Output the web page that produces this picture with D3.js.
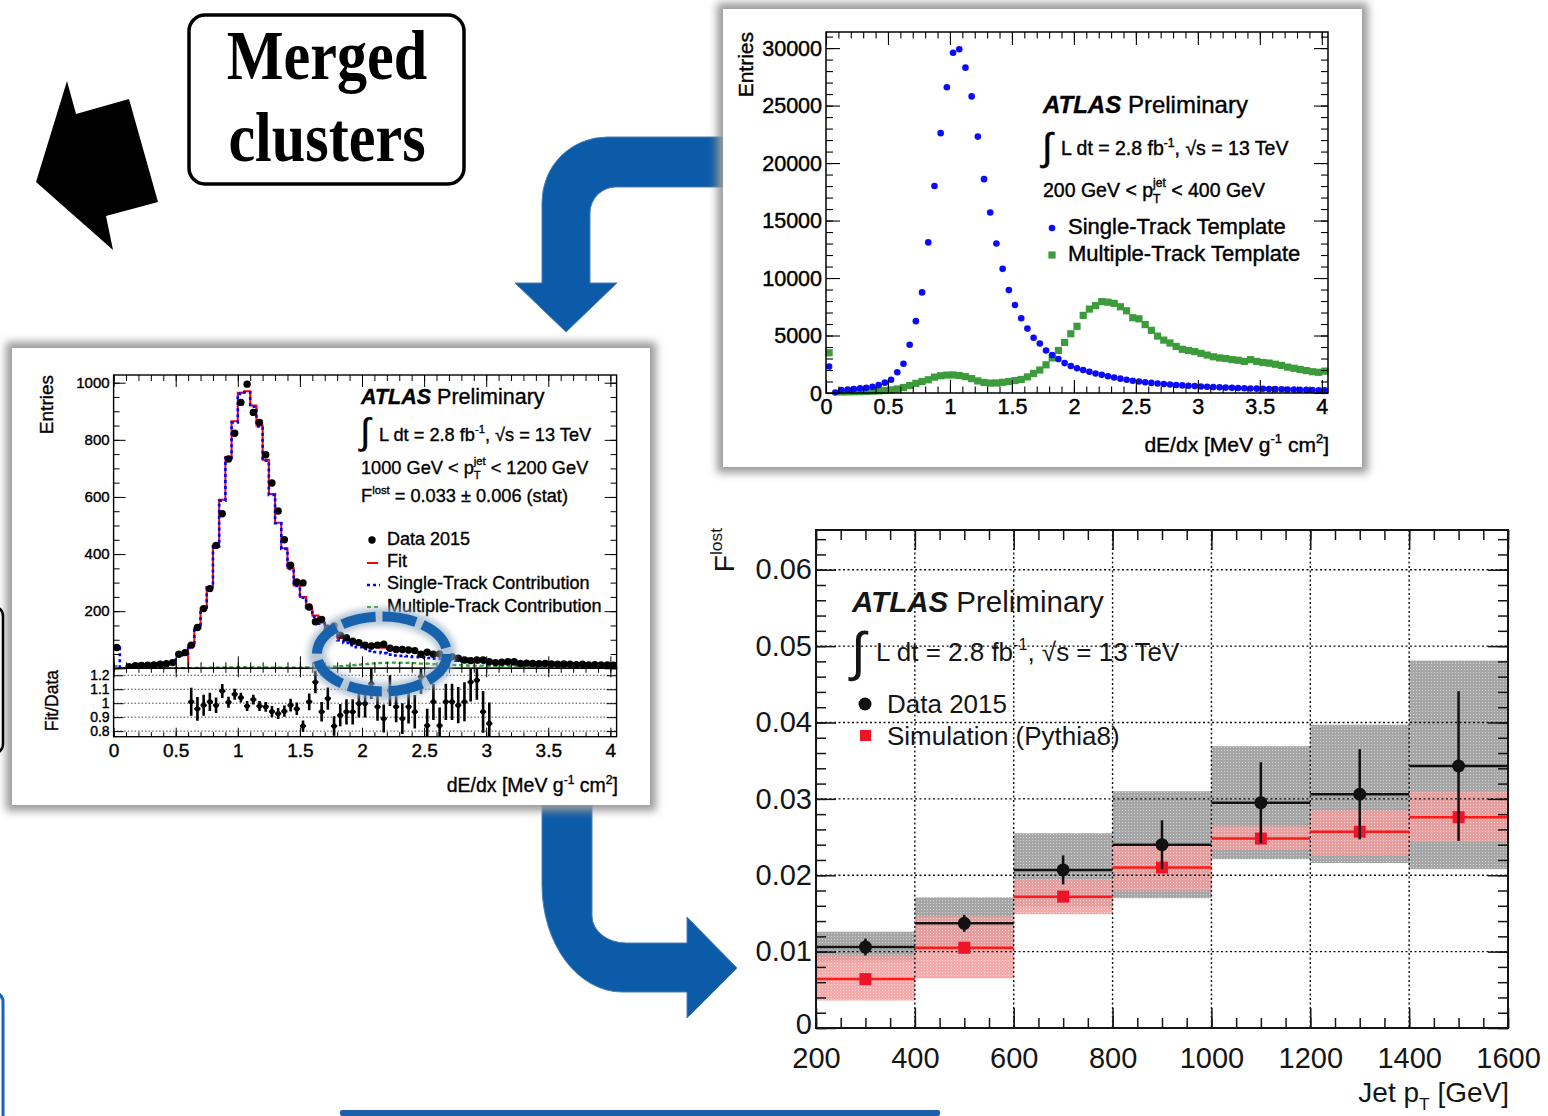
<!DOCTYPE html>
<html><head><meta charset="utf-8">
<script src="https://cdn.jsdelivr.net/npm/d3@7"></script>
<style>html,body{margin:0;padding:0;background:#fff}svg{display:block}</style>
</head><body>
<svg id="chart" width="1548" height="1116"></svg>
<script>
// ================= DATA =================
// --- top-right panel: dE/dx templates (bins of 0.05 MeV g^-1 cm^2 starting at 0) ---
const templateBinWidth = 0.05;
const singleTemplate = [2300, 50, 250, 300, 350, 400, 450, 550, 700, 900,
  1150, 1800, 2550, 4200, 6250, 8750, 13100, 18000, 22600, 26600,
  29600, 29900, 28300, 25800, 22300, 18600, 15700, 13000, 10800, 8950,
  7650, 6500, 5600, 4800, 4300, 3700, 3300, 2950, 2600, 2350,
  2150, 2000, 1850, 1700, 1580, 1460, 1350, 1250, 1150, 1070,
  1000, 940, 880, 830, 780, 740, 700, 660, 630, 600,
  570, 540, 515, 490, 470, 450, 430, 410, 395, 380,
  365, 350, 335, 320, 305, 295, 280, 270, 255, 245, 235];
const multiTemplate = [3500, null, 90, 100, 110, 120, 140, 160, 180, 220,
  270, 350, 480, 650, 840, 1000, 1150, 1380, 1500, 1560,
  1570, 1520, 1420, 1250, 1050, 920, 860, 870, 930, 1000,
  1080, 1180, 1400, 1700, 2000, 2450, 3050, 3700, 4400, 5150,
  5800, 6750, 7300, 7600, 7950, 7900, 7800, 7500, 7150, 6550,
  6450, 5950, 5450, 4950, 4600, 4350, 4050, 3800, 3700, 3600,
  3450, 3300, 3150, 3050, 3000, 2900, 2850, 2750, 2900, 2750,
  2650, 2600, 2500, 2400, 2250, 2150, 2050, 1950, 1850, 1800, 1900];

// --- left panel: fit in 1000 < pT < 1200 GeV ---
const fitBinWidth = 0.05;
const data2015 = [73, null, 6, 9, 10, 11, 12, 14, 16, 20,
  49, 55, 81, 143, 209, 279, 430, 541, 733, 823,
  931, 995, 896, 861, 748, 649, 551, 450, 361, 302,
  299, 215, 163, 171, 140, 148, 116, 107, 95, 90,
  81, 78, 81, 84, 70, 66, 66, 64, 62, 49,
  56, 49, 50, 38, 41, 35, 29, 27, 29, 29,
  23, 20, 21, 23, 23, 17, 18, 17, 16, 17,
  15, 14, 15, 14, 13, 14, 12, 13, 12, 12, 11];
const fitFirstBin = 12;
const fitValues = [80, 140, 210, 285, 430, 590, 740, 865, 965, 970,
  920, 850, 730, 610, 510, 420, 350, 290, 250, 210,
  185, 160, 138, 124, 106, 98, 92, 87, 82, 78,
  75, 72, 68, 65, 63, 61, 58, 55, 52, 49,
  47, 44, 41, 38, 35, 32, 30, 28, 26, 25,
  24, 23, 22, 21, 20, 19.5, 19, 18.5, 18, 17,
  16.5, 16, 15.5, 15, 14.5, 14, 13.5, 13, 12.5];
const singleContribution = [73, 0, 5, 8, 9, 10, 11, 13, 15, 19,
  45, 52, 79, 139, 208, 283, 427, 587, 736, 861,
  961, 966, 916, 847, 727, 607, 508, 418, 348, 288,
  247, 207, 181, 156, 133, 118, 98, 89, 81, 74,
  67.5, 61, 57, 53, 48, 45, 43.5, 42, 40, 39,
  36, 34, 33.4, 31.7, 29.5, 27, 25, 22.5, 21, 19,
  17.4, 16.8, 16, 15.4, 14.5, 13.8, 13, 12.6, 11.8, 11.6,
  11.4, 10.5, 10.3, 10, 9.9, 9.6, 9.4, 9.1, 8.9, 8.5, 7.8];
const multiContribution = [8, 0, 0.2, 0.3, 0.3, 0.4, 0.4, 0.5, 0.5, 0.6,
  0.7, 0.9, 1.1, 1.3, 1.6, 2.1, 2.5, 3.0, 3.5, 3.7,
  3.8, 3.7, 3.6, 3.3, 3.0, 2.6, 2.4, 2.3, 2.3, 2.4,
  2.6, 3.0, 3.6, 4.4, 5.1, 6.1, 7.6, 9.2, 11, 12.8,
  14.5, 16.8, 18.2, 19, 19.8, 19.7, 19.5, 18.7, 17.8, 16.3,
  16.1, 14.8, 13.6, 12.3, 11.5, 10.8, 10.1, 9.5, 9.2, 9.0,
  8.6, 8.2, 7.9, 7.6, 7.5, 7.2, 7.1, 6.9, 7.2, 6.9,
  6.6, 6.5, 6.2, 6.0, 5.6, 5.4, 5.1, 4.9, 4.6, 4.5, 4.7];
const ratioFirstBin = 12;
const ratioValues = [1.01, 0.96, 0.985, 1.01, 0.985, 1.088, 1.007, 1.064, 1.04, 0.98,
  1.026, 0.98, 0.974, 0.94, 0.926, 0.943, 0.986, 0.96, 0.836, 1.01,
  1.152, 0.938, 1.033, 0.836, 0.914, 0.938, 0.938, 0.998, 0.998, 1.14,
  0.974, 0.89, 1.09, 0.974, 0.89, 0.974, 0.938, 1.188, 0.84, 1.01,
  0.84, 1.01, 1.01, 0.986, 1.01, 1.152, 1.164, 0.938, 0.855];
const ratioErrors = [0.10, 0.085, 0.075, 0.065, 0.055, 0.05, 0.04, 0.04, 0.035, 0.035,
  0.035, 0.035, 0.035, 0.04, 0.04, 0.04, 0.045, 0.045, 0.04, 0.06,
  0.08, 0.07, 0.08, 0.07, 0.08, 0.09, 0.09, 0.1, 0.1, 0.11,
  0.1, 0.1, 0.11, 0.11, 0.11, 0.12, 0.12, 0.12, 0.12, 0.13,
  0.13, 0.13, 0.13, 0.13, 0.14, 0.14, 0.14, 0.15, 0.15];

// --- bottom-right panel: F^lost vs jet pT ---
const ptBinEdges = [200, 400, 600, 800, 1000, 1200, 1400, 1600];
const fLostData = [0.0106, 0.0137, 0.0207, 0.0240, 0.0295, 0.0306, 0.0343];
const fLostDataStat = [0.0011, 0.0011, 0.0019, 0.0032, 0.0053, 0.0059, 0.0098];
const fLostDataSystLow = [0.0087, 0.0102, 0.0159, 0.0170, 0.0221, 0.0216, 0.0208];
const fLostDataSystHigh = [0.0126, 0.0171, 0.0255, 0.0310, 0.0369, 0.0397, 0.0481];
const fLostSim = [0.0064, 0.0105, 0.0172, 0.0210, 0.0248, 0.0257, 0.0276];
const fLostSimLow = [0.0036, 0.0065, 0.0149, 0.0180, 0.0234, 0.0226, 0.0244];
const fLostSimHigh = [0.0095, 0.0146, 0.0195, 0.0239, 0.0264, 0.0285, 0.0310];

// tick labels
const trXTicks = [0, 0.5, 1, 1.5, 2, 2.5, 3, 3.5, 4];
const trYTicks = [0, 5000, 10000, 15000, 20000, 25000, 30000];
const lYTicks = [0, 200, 400, 600, 800, 1000];
const lRatioTicks = [0.8, 0.9, 1, 1.1, 1.2];
const brXTicks = [200, 400, 600, 800, 1000, 1200, 1400, 1600];
const brYTicks = [0, 0.01, 0.02, 0.03, 0.04, 0.05, 0.06];

// ================= DRAWING =================
const SANS = "'Liberation Sans', Arial, Helvetica, sans-serif";
const svg = d3.select('#chart');
const defs = svg.append('defs');

const fs = defs.append('filter').attr('id', 'shadow').attr('x', -0.2).attr('y', -0.2).attr('width', 1.4).attr('height', 1.4);
fs.append('feGaussianBlur').attr('stdDeviation', 4.5);
const fgl = defs.append('filter').attr('id', 'glow').attr('x', -0.4).attr('y', -0.4).attr('width', 1.8).attr('height', 1.8);
fgl.append('feGaussianBlur').attr('stdDeviation', 3);

function pattern(id, base, dot) {
  const p = defs.append('pattern').attr('id', id).attr('width', 3).attr('height', 3).attr('patternUnits', 'userSpaceOnUse');
  p.append('rect').attr('width', 3).attr('height', 3).attr('fill', base);
  p.append('rect').attr('width', 1).attr('height', 1).attr('fill', dot);
}
pattern('pgray', '#a6a6a6', '#d4d4d4');
pattern('ppink', '#f39c9c', '#fbd3d3');

// text helper
function rtext(g, x, y, o) {
  const t = g.append('text')
    .attr('transform', `translate(${x},${y})` + (o.rot ? ` rotate(${o.rot})` : '') + ` scale(${o.sx || 1},1)`)
    .attr('font-family', o.ff || SANS).attr('font-size', o.fs)
    .attr('text-anchor', o.anchor || 'start').attr('fill', o.fill || '#000');
  if (o.heavy) t.attr('stroke', o.fill || '#000').attr('stroke-width', o.heavy);
  if (o.weight) t.attr('font-weight', o.weight);
  return t;
}
function span(t, str, attrs) {
  const s = t.append('tspan').text(str);
  if (attrs) for (const k in attrs) s.attr(k, attrs[k]);
  return s;
}
function sup(t, str, f) { span(t, str, { 'font-size': f * 0.62, dy: -f * 0.42 }); }
function atlas(g, x, y, f, o) {
  const t = rtext(g, x, y, Object.assign({ fs: f }, o));
  span(t, 'ATLAS', { 'font-weight': 'bold', 'font-style': 'italic' });
  span(t, ' Preliminary');
}
function lumi(g, x, y, f, o) {
  const t = rtext(g, x, y, Object.assign({ fs: f }, o));
  span(t, 'L dt = 2.8 fb');
  sup(t, '-1', f);
  span(t, ', √s = 13 TeV', { dy: f * 0.42 });
}
function integral(g, x, yBottom, h, o) {
  const f = h / 1.12;
  rtext(g, x, yBottom - 0.21 * f, Object.assign({ fs: f }, o)).text('∫');
}
function ptRange(g, x, y, f, lo, hi, o) {
  const t = rtext(g, x, y, Object.assign({ fs: f }, o));
  span(t, lo + ' GeV < p');
  span(t, 'T', { 'font-size': f * 0.62, dy: f * 0.3 });
  span(t, 'jet', { 'font-size': f * 0.62, dx: -f * 0.38, dy: -f * 0.8 });
  span(t, ' < ' + hi + ' GeV', { dy: f * 0.5 });
}
function dedxTitle(g, x, y, f, o) {
  const t = rtext(g, x, y, Object.assign({ fs: f, anchor: 'end' }, o));
  span(t, 'dE/dx [MeV g');
  sup(t, '-1', f);
  span(t, ' cm', { dy: f * 0.42 });
  sup(t, '2', f);
  span(t, ']', { dy: f * 0.42 });
}

// ROOT-style frame with inward ticks on all four sides
function rootAxes(g, x, y, o) {
  const [xa, xb] = x.range(); const [ya, yb] = y.range();
  const col = o.color || '#000';
  function add(axis, tr) {
    const a = g.append('g').attr('transform', tr).call(axis);
    a.select('.domain').remove();
    a.selectAll('line').attr('stroke', col).attr('stroke-width', o.tw || 1);
    return a;
  }
  const none = () => '';
  const bx = add(d3.axisBottom(x).tickValues(o.xMaj).tickSize(-o.xt[0]).tickPadding(o.xPad || 6).tickFormat(o.xFmt || none), `translate(0,${ya})`);
  if (o.xMin) add(d3.axisBottom(x).tickValues(o.xMin).tickSize(-o.xt[1]).tickFormat(none), `translate(0,${ya})`);
  if (o.top !== false) {
    add(d3.axisTop(x).tickValues(o.xMaj).tickSize(-o.xt[0]).tickFormat(none), `translate(0,${yb})`);
    if (o.xMin) add(d3.axisTop(x).tickValues(o.xMin).tickSize(-o.xt[1]).tickFormat(none), `translate(0,${yb})`);
  }
  const ly = add(d3.axisLeft(y).tickValues(o.yMaj).tickSize(-o.yt[0]).tickPadding(o.yPad || 6).tickFormat(o.yFmt || none), `translate(${xa},0)`);
  if (o.yMin) add(d3.axisLeft(y).tickValues(o.yMin).tickSize(-o.yt[1]).tickFormat(none), `translate(${xa},0)`);
  add(d3.axisRight(y).tickValues(o.yMaj).tickSize(-o.yt[0]).tickFormat(none), `translate(${xb},0)`);
  if (o.yMin) add(d3.axisRight(y).tickValues(o.yMin).tickSize(-o.yt[1]).tickFormat(none), `translate(${xb},0)`);
  [[bx, o.xfs], [ly, o.yfs]].forEach(([a, f]) => {
    const t = a.selectAll('text').attr('font-family', SANS).attr('font-size', f).attr('fill', col)
      .attr('transform', `scale(${o.sx || 1},1)`);
    if (o.heavy) t.attr('stroke', col).attr('stroke-width', o.heavy);
  });
  g.append('rect').attr('x', xa).attr('y', yb).attr('width', xb - xa).attr('height', ya - yb)
    .attr('fill', 'none').attr('stroke', col).attr('stroke-width', o.lw || 1.5);
  return { bx, ly };
}
const rng = (a, b, s) => d3.range(Math.round((b - a) / s) + 1).map(i => +(a + i * s).toFixed(6));

// ---------- decorations: blue arrows (behind cards) ----------
const BLUE = '#0c5ba8';
svg.append('path')
  .attr('d', 'M 735 137 L 607 137 A 65 65 0 0 0 542 202 L 542 283 L 515 283 L 566 332 L 617 283 L 590 283 L 590 213 A 26 26 0 0 1 616 187 L 735 187 Z')
  .attr('fill', BLUE).attr('stroke', '#4d7fb4').attr('stroke-width', 1);
svg.append('path')
  .attr('d', 'M 542 795 L 542 885 A 80 107 0 0 0 622 992 L 687 992 L 687 1018 L 737 968 L 687 917 L 687 943 L 626 943 A 34 27 0 0 1 592 916 L 592 795 Z')
  .attr('fill', BLUE).attr('stroke', '#4d7fb4').attr('stroke-width', 1);

// ---------- cards ----------
function card(x, y, w, h) {
  svg.append('rect').attr('x', x - 6).attr('y', y - 6).attr('width', w + 12).attr('height', h + 12)
    .attr('fill', '#9a9a9a').attr('filter', 'url(#shadow)');
  svg.append('rect').attr('x', x).attr('y', y).attr('width', w).attr('height', h).attr('fill', '#fff');
}
card(723, 9, 639, 458);
card(12, 348, 638, 457);

// ---------- black arrow + Merged clusters box ----------
svg.append('polygon').attr('points', '67,81 76,114 129,99 158,202 106,216 113,250 36,182').attr('fill', '#000');
svg.append('rect').attr('x', 189).attr('y', 15).attr('width', 275).attr('height', 169).attr('rx', 16)
  .attr('fill', '#fff').attr('stroke', '#000').attr('stroke-width', 3.5);
rtext(svg, 327, 79, { fs: 70, sx: 0.86, anchor: 'middle', ff: "'Liberation Serif', 'DejaVu Serif', serif", weight: 'bold' }).text('Merged');
rtext(svg, 327, 161, { fs: 70, sx: 0.86, anchor: 'middle', ff: "'Liberation Serif', 'DejaVu Serif', serif", weight: 'bold' }).text('clusters');

// edge pieces
svg.append('rect').attr('x', -30).attr('y', 606).attr('width', 33).attr('height', 148).attr('rx', 10)
  .attr('fill', 'none').attr('stroke', '#000').attr('stroke-width', 2.5);
svg.append('rect').attr('x', -30).attr('y', 992).attr('width', 33).attr('height', 160).attr('rx', 10)
  .attr('fill', 'none').attr('stroke', '#1565c0').attr('stroke-width', 3);
svg.append('rect').attr('x', 340).attr('y', 1110).attr('width', 600).attr('height', 6).attr('rx', 2).attr('fill', '#1b5fa9');

// =============== TOP-RIGHT: templates ===============
{
  const g = svg.append('g');
  const x = d3.scaleLinear().domain([0, 4.05]).range([826, 1328]);
  const y = d3.scaleLinear().domain([0, 31400]).range([393, 32]);
  const cx = i => x(i * templateBinWidth + templateBinWidth / 2);
  g.selectAll('rect.mt').data(multiTemplate.map((v, i) => ({ v, i })).filter(d => d.v != null)).join('rect')
    .attr('class', 'mt').attr('x', d => cx(d.i) - 3.6).attr('y', d => y(d.v) - 3.6)
    .attr('width', 7.2).attr('height', 7.2).attr('fill', '#3c9c3c');
  g.selectAll('circle.st').data(singleTemplate.map((v, i) => ({ v, i }))).join('circle')
    .attr('class', 'st').attr('cx', d => cx(d.i)).attr('cy', d => y(d.v)).attr('r', 3.3).attr('fill', '#0a0aff');
  rootAxes(g, x, y, {
    xMaj: trXTicks, xMin: rng(0, 4, 0.1), yMaj: trYTicks, yMin: rng(0, 31000, 1000),
    xt: [13, 6.5], yt: [14, 7], xFmt: d => d, yFmt: d => d, xfs: 22, yfs: 22, sx: 0.98,
    xPad: 5, yPad: 4, heavy: 0.45, lw: 1.5, tw: 1.1
  });
  const H = { sx: 1, heavy: 0.4 };
  rtext(g, 753, 32, Object.assign({ fs: 21, rot: -90, anchor: 'end' }, H)).text('Entries');
  dedxTitle(g, 1329, 452, 21, H);
  atlas(g, 1043, 113, 24, H);
  integral(g, 1042, 168, 43, H);
  lumi(g, 1061, 155, 19.5, H);
  ptRange(g, 1043, 197, 19.5, 200, 400, H);
  g.append('circle').attr('cx', 1052).attr('cy', 228).attr('r', 3.3).attr('fill', '#0a0aff');
  g.append('rect').attr('x', 1048.4).attr('y', 251.4).attr('width', 7.2).attr('height', 7.2).attr('fill', '#3c9c3c');
  rtext(g, 1068, 234, Object.assign({ fs: 22 }, H)).text('Single-Track Template');
  rtext(g, 1068, 261, Object.assign({ fs: 22 }, H)).text('Multiple-Track Template');
}

// =============== LEFT: fit with ratio ===============
{
  const g = svg.append('g');
  const x = d3.scaleLinear().domain([0, 4.05]).range([113.6, 616.6]);
  const y = d3.scaleLinear().domain([0, 1027]).range([668.3, 375]);
  const yr = d3.scaleLinear().domain([0.76, 1.25]).range([736.7, 668.3]);
  defs.append('clipPath').attr('id', 'clipMain').append('rect').attr('x', 113.6).attr('y', 375).attr('width', 503).attr('height', 293.3);
  defs.append('clipPath').attr('id', 'clipRatio').append('rect').attr('x', 113.6).attr('y', 668.3).attr('width', 503).attr('height', 68.4);
  const lo = i => i * fitBinWidth, hi = i => (i + 1) * fitBinWidth;
  const steps = (vals, first) => {
    const pts = [];
    vals.forEach((v, j) => { const i = j + first; pts.push([lo(i), v], [hi(i), v]); });
    return pts;
  };
  const line = d3.line().x(d => x(d[0])).y(d => y(d[1]));
  const main = g.append('g').attr('clip-path', 'url(#clipMain)');
  main.append('path').attr('d', line([[lo(fitFirstBin), 0]].concat(steps(fitValues, fitFirstBin))))
    .attr('fill', 'none').attr('stroke', '#ff0000').attr('stroke-width', 2);
  main.append('path').attr('d', line(steps(multiContribution, 0)))
    .attr('fill', 'none').attr('stroke', '#33a033').attr('stroke-width', 2.2).attr('stroke-dasharray', '4,3');
  main.append('path').attr('d', line(steps(singleContribution, 0)))
    .attr('fill', 'none').attr('stroke', '#0000ff').attr('stroke-width', 2.6).attr('stroke-dasharray', '3,3');
  main.selectAll('circle.d').data(data2015.map((v, i) => ({ v, i })).filter(d => d.v != null)).join('circle')
    .attr('class', 'd').attr('cx', d => x(lo(d.i) + fitBinWidth / 2)).attr('cy', d => y(d.v)).attr('r', 3.7).attr('fill', '#000');

  // ratio panel
  const rg = g.append('g').attr('clip-path', 'url(#clipRatio)');
  rg.selectAll('line.grid').data(lRatioTicks).join('line').attr('class', 'grid')
    .attr('x1', 113.6).attr('x2', 616.6).attr('y1', d => yr(d)).attr('y2', d => yr(d))
    .attr('stroke', '#444').attr('stroke-width', 1).attr('stroke-dasharray', '1.5,2');
  const rdat = ratioValues.map((v, j) => ({ v, e: ratioErrors[j], i: j + ratioFirstBin }));
  rg.selectAll('line.ev').data(rdat).join('line').attr('class', 'ev')
    .attr('x1', d => x(lo(d.i) + fitBinWidth / 2)).attr('x2', d => x(lo(d.i) + fitBinWidth / 2))
    .attr('y1', d => yr(d.v - d.e)).attr('y2', d => yr(d.v + d.e)).attr('stroke', '#000').attr('stroke-width', 2.6);
  rg.selectAll('line.eh').data(rdat).join('line').attr('class', 'eh')
    .attr('x1', d => x(lo(d.i))).attr('x2', d => x(hi(d.i)))
    .attr('y1', d => yr(d.v)).attr('y2', d => yr(d.v)).attr('stroke', '#000').attr('stroke-width', 2);
  rg.selectAll('circle.r').data(rdat).join('circle').attr('class', 'r')
    .attr('cx', d => x(lo(d.i) + fitBinWidth / 2)).attr('cy', d => yr(d.v)).attr('r', 2.6).attr('fill', '#000');

  rootAxes(g, x, y, {
    xMaj: trXTicks, xMin: rng(0, 4, 0.1), yMaj: lYTicks, yMin: rng(0, 1000, 50),
    xt: [12, 6], yt: [12, 6], yFmt: d => (d === 0 ? '' : d), yfs: 15, sx: 1, yPad: 4, heavy: 0.4, lw: 1.4
  });
  rootAxes(g, x, yr, {
    xMaj: trXTicks, xMin: rng(0, 4, 0.1), yMaj: lRatioTicks,
    xt: [9, 4.5], yt: [10, 5], xFmt: d => d, yFmt: d => d, xfs: 19, yfs: 14, sx: 1,
    xPad: 6.5, yPad: 4, heavy: 0.4, lw: 1.4
  });
  const H = { sx: 1, heavy: 0.35 };
  rtext(g, 53, 375, Object.assign({ fs: 19, rot: -90, anchor: 'end' }, H)).text('Entries');
  rtext(g, 58, 670, Object.assign({ fs: 17.5, rot: -90, anchor: 'end' }, H)).text('Fit/Data');
  dedxTitle(g, 618, 792, 19.5, H);
  atlas(g, 361, 404, 21.5, H);
  integral(g, 360, 452, 41, H);
  lumi(g, 379, 441, 18.2, H);
  ptRange(g, 361, 474, 18.2, 1000, 1200, H);
  const tf = rtext(g, 361, 502, Object.assign({ fs: 18.2 }, H));
  span(tf, 'F'); sup(tf, 'lost', 18.2); span(tf, ' =  0.033 ± 0.006 (stat)', { dy: 18.2 * 0.42 });
  g.append('circle').attr('cx', 372).attr('cy', 540).attr('r', 3.7).attr('fill', '#000');
  g.append('line').attr('x1', 367).attr('x2', 378).attr('y1', 563).attr('y2', 563).attr('stroke', '#ff0000').attr('stroke-width', 2);
  g.append('line').attr('x1', 367).attr('x2', 380).attr('y1', 585).attr('y2', 585).attr('stroke', '#0000ff').attr('stroke-width', 2.6).attr('stroke-dasharray', '3,3');
  g.append('line').attr('x1', 367).attr('x2', 380).attr('y1', 607).attr('y2', 607).attr('stroke', '#33a033').attr('stroke-width', 2.2).attr('stroke-dasharray', '4,3');
  rtext(g, 387, 545, Object.assign({ fs: 18 }, H)).text('Data 2015');
  rtext(g, 387, 567, Object.assign({ fs: 18 }, H)).text('Fit');
  rtext(g, 387, 589, Object.assign({ fs: 18 }, H)).text('Single-Track Contribution');
  rtext(g, 387, 612, Object.assign({ fs: 18 }, H)).text('Multiple-Track Contribution');

  // highlight ellipse
  g.append('ellipse').attr('cx', 382).attr('cy', 654).attr('rx', 65).attr('ry', 37.5)
    .attr('fill', 'none').attr('stroke', '#9db2c8').attr('stroke-width', 18).attr('opacity', 0.75).attr('filter', 'url(#glow)');
  g.append('ellipse').attr('cx', 382).attr('cy', 654).attr('rx', 65).attr('ry', 37.5)
    .attr('fill', 'none').attr('stroke', '#1862ad').attr('stroke-width', 10).attr('stroke-dasharray', '34,7');
}

// =============== BOTTOM-RIGHT: F^lost vs pT ===============
{
  const g = svg.append('g');
  const x = d3.scaleLinear().domain([200, 1600]).range([816, 1508]);
  const y = d3.scaleLinear().domain([0, 0.0652]).range([1028, 530]);
  const bins = fLostData.map((v, i) => ({
    lo: ptBinEdges[i], hi: ptBinEdges[i + 1], v, stat: fLostDataStat[i],
    sLo: fLostDataSystLow[i], sHi: fLostDataSystHigh[i],
    sim: fLostSim[i], simLo: fLostSimLow[i], simHi: fLostSimHigh[i]
  }));
  g.selectAll('rect.gb').data(bins).join('rect').attr('class', 'gb')
    .attr('x', d => x(d.lo)).attr('width', d => x(d.hi) - x(d.lo))
    .attr('y', d => y(d.sHi)).attr('height', d => y(d.sLo) - y(d.sHi)).attr('fill', 'url(#pgray)');
  g.selectAll('rect.pb').data(bins).join('rect').attr('class', 'pb')
    .attr('x', d => x(d.lo)).attr('width', d => x(d.hi) - x(d.lo))
    .attr('y', d => y(d.simHi)).attr('height', d => y(d.simLo) - y(d.simHi)).attr('fill', 'url(#ppink)').attr('opacity', 0.85);
  // grid
  g.selectAll('line.gx').data(brXTicks.slice(1, -1)).join('line').attr('class', 'gx')
    .attr('x1', d => x(d)).attr('x2', d => x(d)).attr('y1', 530).attr('y2', 1028)
    .attr('stroke', '#111').attr('stroke-width', 1.4).attr('stroke-dasharray', '2,2.5');
  g.selectAll('line.gy').data(brYTicks.slice(1)).join('line').attr('class', 'gy')
    .attr('x1', 816).attr('x2', 1508).attr('y1', d => y(d)).attr('y2', d => y(d))
    .attr('stroke', '#111').attr('stroke-width', 1.4).attr('stroke-dasharray', '2,2.5');
  // sim
  g.selectAll('line.sl').data(bins).join('line').attr('class', 'sl')
    .attr('x1', d => x(d.lo)).attr('x2', d => x(d.hi)).attr('y1', d => y(d.sim)).attr('y2', d => y(d.sim))
    .attr('stroke', '#ff1a1a').attr('stroke-width', 2.5);
  g.selectAll('rect.sm').data(bins).join('rect').attr('class', 'sm')
    .attr('x', d => x((d.lo + d.hi) / 2) - 6).attr('y', d => y(d.sim) - 6).attr('width', 12).attr('height', 12).attr('fill', '#f0142a');
  // data
  g.selectAll('line.dl').data(bins).join('line').attr('class', 'dl')
    .attr('x1', d => x(d.lo)).attr('x2', d => x(d.hi)).attr('y1', d => y(d.v)).attr('y2', d => y(d.v))
    .attr('stroke', '#111').attr('stroke-width', 2.5);
  g.selectAll('line.de').data(bins).join('line').attr('class', 'de')
    .attr('x1', d => x((d.lo + d.hi) / 2)).attr('x2', d => x((d.lo + d.hi) / 2))
    .attr('y1', d => y(d.v - d.stat)).attr('y2', d => y(d.v + d.stat)).attr('stroke', '#111').attr('stroke-width', 2.5);
  g.selectAll('circle.dm').data(bins).join('circle').attr('class', 'dm')
    .attr('cx', d => x((d.lo + d.hi) / 2)).attr('cy', d => y(d.v)).attr('r', 6.5).attr('fill', '#111');

  const ax = rootAxes(g, x, y, {
    xMaj: brXTicks, xMin: rng(200, 1600, 50), yMaj: brYTicks, yMin: rng(0, 0.064, 0.002),
    xt: [20, 10], yt: [20, 10], xFmt: d => d, yFmt: d => d3.format('~g')(d), xfs: 29, yfs: 29,
    xPad: 19, yPad: 4, lw: 2, tw: 1.5, color: '#151515'
  });
  // lift the "0" label slightly so it does not collide with the "200" label
  ax.ly.selectAll('text').filter(d => d === 0).attr('dy', '0.18em');
  const C = { fill: '#151515' };
  atlas(g, 852, 612, 29.5, C);
  integral(g, 851, 681, 60, C);
  lumi(g, 876, 661, 26, C);
  g.append('circle').attr('cx', 865).attr('cy', 704).attr('r', 6.5).attr('fill', '#111');
  g.append('rect').attr('x', 860).attr('y', 730).attr('width', 11).attr('height', 11).attr('fill', '#f0142a');
  rtext(g, 887, 713, Object.assign({ fs: 26 }, C)).text('Data 2015');
  rtext(g, 887, 745, Object.assign({ fs: 26 }, C)).text('Simulation (Pythia8)');
  const fy = rtext(g, 734, 528, Object.assign({ fs: 28, rot: -90, anchor: 'end' }, C));
  span(fy, 'F'); sup(fy, 'lost', 28);
  const jx = rtext(g, 1509, 1102, Object.assign({ fs: 28, anchor: 'end' }, C));
  span(jx, 'Jet p'); span(jx, 'T', { 'font-size': 28 * 0.62, dy: 28 * 0.3 }); span(jx, ' [GeV]', { dy: -28 * 0.3 });
}
</script>
</body></html>
